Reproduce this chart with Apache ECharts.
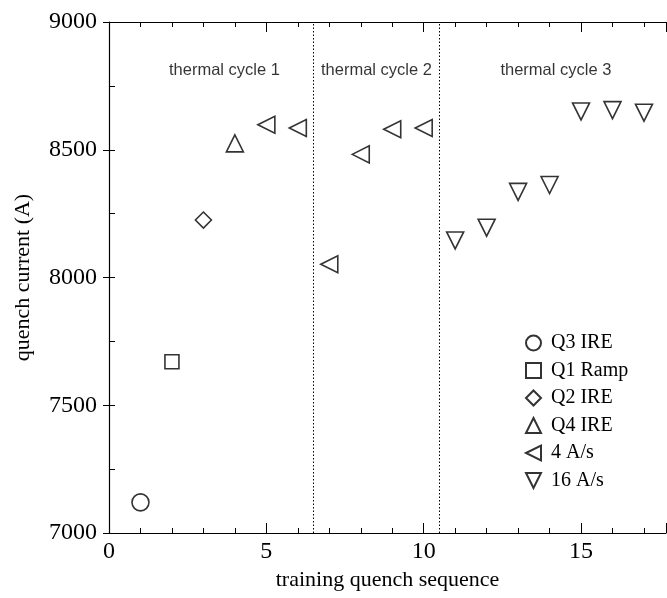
<!DOCTYPE html>
<html>
<head>
<meta charset="utf-8">
<script src="https://cdn.jsdelivr.net/npm/echarts@6/dist/echarts.min.js"></script>
<style>
  html, body { margin: 0; padding: 0; background: #fff; }
  #chart { width: 667px; height: 598px; }
</style>
</head>
<body>
<div id="chart"></div>
<script>
// training quench data, [sequence, current (A)]
const seriesNames = ["Q3 IRE", "Q1 Ramp", "Q2 IRE", "Q4 IRE", "4 A/s", "16 A/s"];
const q3Ire = [[1, 7120]];
const q1Ramp = [[2, 7670]];
const q2Ire = [[3, 8225]];
const q4Ire = [[4, 8525]];
const rate4 = [[5, 8598], [6, 8585], [7, 8052], [8, 8482], [9, 8580], [10, 8585]];
const rate16 = [[11, 8145], [12, 8195], [13, 8335], [14, 8362], [15, 8650], [16, 8655], [17, 8645]];
// thermal cycle boundaries and labels
const cycleBounds = [6.5, 10.5];
const cycleLabels = [
  { name: "thermal cycle 1", value: [3.67, 8810] },
  { name: "thermal cycle 2", value: [8.5, 8810] },
  { name: "thermal cycle 3", value: [14.2, 8810] },
];

const triLeft = "path://M0,5L10,0L10,10Z";
const triDown = "path://M0,0L10,0L5,10Z";
const triUp = "path://M5,0L10,10L0,10Z";
const symbols = ["circle", "rect", "diamond", triUp, triLeft, triDown];
const sizes = [17, 14, 16, 17, 17, 17];
const allData = [q3Ire, q1Ramp, q2Ire, q4Ire, rate4, rate16];

const serif = "Liberation Serif";
const chart = echarts.init(document.getElementById("chart"));

let series = allData.map((d, i) => ({
  name: seriesNames[i],
  type: "scatter",
  data: d,
  symbol: symbols[i],
  symbolSize: sizes[i],
  symbolKeepAspect: true,
  itemStyle: { color: "rgba(255,255,255,0)", borderColor: "#000", borderWidth: 1.6 },
  z: 3,
}));

series.push({
  name: "cycles",
  type: "scatter",
  data: cycleLabels,
  symbolSize: 0,
  silent: true,
  label: {
    show: true,
    position: "inside",
    formatter: "{b}",
    fontFamily: "Liberation Sans",
    fontSize: 16.5,
    color: "#000",
  },
  markLine: {
    silent: true,
    symbol: "none",
    label: { show: false },
    lineStyle: { color: "#000", type: [1.5, 2], width: 1 },
    data: cycleBounds.map((x) => ({ xAxis: x })),
  },
});

chart.setOption({
  animation: false,
  backgroundColor: "#fff",
  grid: { left: 109, right: 1, top: 22, bottom: 65 },
  legend: {
    data: seriesNames,
    orient: "vertical",
    left: 520,
    top: 328,
    itemWidth: 15,
    itemHeight: 15,
    itemGap: 7.5,
    formatter: (name) => " " + name,
    textStyle: { fontFamily: serif, fontSize: 20, color: "#000" },
  },
  xAxis: [
    {
      type: "value",
      min: 0,
      max: 17.7,
      interval: 5,
      name: "training quench sequence",
      nameLocation: "middle",
      nameGap: 36,
      nameTextStyle: { fontFamily: serif, fontSize: 22, color: "#000" },
      axisLine: { lineStyle: { color: "#000", width: 1.2 } },
      axisTick: { inside: true, length: 10, lineStyle: { color: "#000" } },
      minorTick: { show: true, splitNumber: 5, length: 5, lineStyle: { color: "#000" } },
      axisLabel: { fontFamily: serif, fontSize: 24, color: "#000", margin: 7, showMaxLabel: false },
      splitLine: { show: false },
    },
    {
      type: "value",
      position: "top",
      min: 0,
      max: 17.7,
      interval: 5,
      axisLine: { show: true, lineStyle: { color: "#000", width: 1.2 } },
      axisTick: { inside: true, length: 10, lineStyle: { color: "#000" } },
      minorTick: { show: true, splitNumber: 5, length: 5, lineStyle: { color: "#000" } },
      axisLabel: { show: false },
      splitLine: { show: false },
    },
  ],
  yAxis: [
    {
      type: "value",
      min: 7000,
      max: 9000,
      interval: 500,
      name: "quench current (A)",
      nameLocation: "middle",
      nameGap: 75,
      nameTextStyle: { fontFamily: serif, fontSize: 22, color: "#000" },
      axisLine: { show: true, lineStyle: { color: "#000", width: 1.2 } },
      axisTick: { inside: true, length: 6, lineStyle: { color: "#000" } },
      minorTick: { show: true, splitNumber: 2, length: 6, lineStyle: { color: "#000" } },
      axisLabel: { fontFamily: serif, fontSize: 24, color: "#000", margin: 12, formatter: (v) => String(v) },
      splitLine: { show: false },
    },
    {
      type: "value",
      position: "right",
      min: 7000,
      max: 9000,
      interval: 500,
      axisLine: { show: false },
      axisTick: { show: true, inside: true, length: 6, lineStyle: { color: "#000" } },
      axisLabel: { show: false },
      splitLine: { show: false },
    },
  ],
  series: series,
});
</script>
</body>
</html>
